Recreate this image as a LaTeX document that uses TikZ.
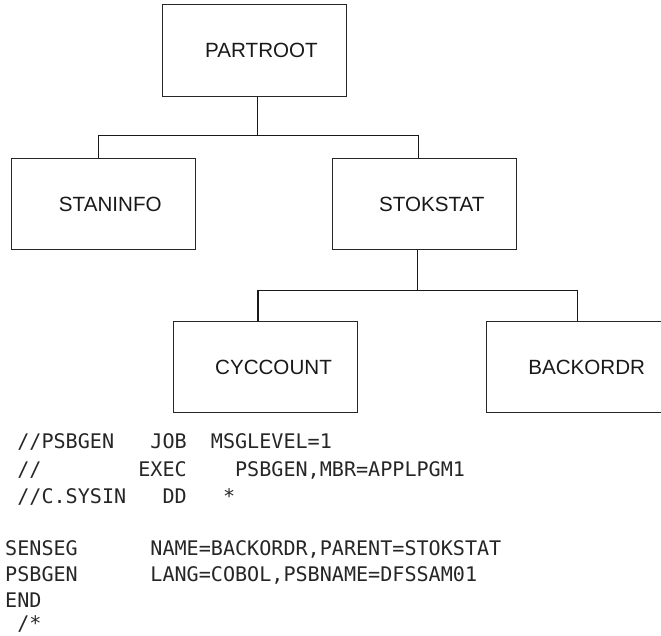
\documentclass[tikz,border=0pt]{standalone}
\usepackage{fontspec}
\setmainfont{Liberation Sans}
\newfontfamily\codefont{DejaVu Sans Mono}
\begin{document}
\begin{tikzpicture}[x=1pt,y=-1pt,
  seg/.style={draw=black!85, line width=0.9pt, minimum width=184pt, minimum height=91.5pt, inner sep=0pt, font=\fontsize{20.6}{24}\selectfont, text=black!90},
  link/.style={draw=black!90, line width=1.1pt},
  code/.style={anchor=base west, inner sep=0pt, font=\codefont\fontsize{20.1}{24}\selectfont, text=black!85}]
\clip (0,0) rectangle (661,636);
% segments
\node[seg] (P)  at (254.5,50.5) {\hspace*{14pt}PARTROOT};
\node[seg] (S1) at (103.3,204)  {\hspace*{14pt}STANINFO};
\node[seg] (S2) at (424.7,204)  {\hspace*{14pt}STOKSTAT};
\node[seg] (C)  at (265.5,367)  {\hspace*{16pt}CYCCOUNT};
\node[seg] (B)  at (578.7,367)  {\hspace*{16pt}BACKORDR};
% connectors
\draw[link] ([xshift=3.2pt]P.south) -- ++(0,38.7) coordinate (j1);
\draw[link] (j1) -| ([xshift=-4.6pt]S1.north);
\draw[link] (j1) -| ([xshift=-6.4pt]S2.north);
\draw[link] ([xshift=-7.4pt]S2.south) -- ++(0,40.25) coordinate (j2);
\draw[link] (j2) -| ([xshift=-7.5pt]C.north);
\draw[link] (j2) -| ([xshift=-1pt]B.north);
% code listing
\node[code] (l1) at (5,448.3) {~//PSBGEN~~~JOB~~MSGLEVEL=1};
\node[code] (l2) at (5,476)   {~//~~~~~~~~EXEC~~~~PSBGEN,MBR=APPLPGM1};
\node[code] (l3) at (5,503.3) {~//C.SYSIN~~~DD~~~*};
\node[code] (l4) at (5,555)   {SENSEG~~~~~~NAME=BACKORDR,PARENT=STOKSTAT};
\node[code] (l5) at (5,581.7) {PSBGEN~~~~~~LANG=COBOL,PSBNAME=DFSSAM01};
\node[code] (l6) at (5,607.3) {END};
\node[code] (l7) at (5,630)   {~/*};
\end{tikzpicture}
\end{document}
